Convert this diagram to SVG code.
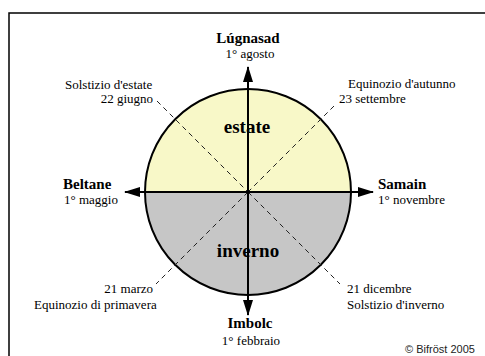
<svg xmlns="http://www.w3.org/2000/svg" width="485" height="356" viewBox="0 0 485 356">
  <defs>
    <style>
      .lbl { font-family: "Liberation Serif", "Times New Roman", serif; font-size: 13px; fill: #000; }
      .ttl { font-family: "Liberation Serif", "Times New Roman", serif; font-size: 15px; font-weight: bold; fill: #000; }
      .season { font-family: "Liberation Serif", "Times New Roman", serif; font-size: 19px; font-weight: bold; fill: #000; }
      .axis { stroke: #000; stroke-width: 2; fill: none; }
      .dash { stroke: #222; stroke-width: 1; stroke-dasharray: 5 4; fill: none; }
      .copy { font-family: "Liberation Sans", Arial, sans-serif; font-size: 11px; fill: #222; }
    </style>
    <marker id="arrow" markerUnits="userSpaceOnUse" markerWidth="16" markerHeight="10" refX="15" refY="5" orient="auto-start-reverse">
      <path d="M0,0 L16,5 L0,10 Z" fill="#000"/>
    </marker>
  </defs>
  <rect x="0" y="0" width="485" height="356" fill="#fff"/>
  <path d="M9,360 V13 H490" fill="none" stroke="#000" stroke-width="1.5"/>

  <g id="wheel">
    <path d="M145,192 A103,103 0 0 1 351,192 Z" fill="#f8f8c8"/>
    <path d="M145,192 A103,103 0 0 0 351,192 Z" fill="#c6c6c6"/>
    <circle cx="248" cy="192" r="103" fill="none" stroke="#000" stroke-width="2"/>
  </g>

  <g id="connectors">
    <line class="dash" x1="157" y1="101" x2="248" y2="192"/>
    <line class="dash" x1="248" y1="192" x2="340" y2="284"/>
    <line class="dash" x1="334" y1="106" x2="248" y2="192"/>
    <line class="dash" x1="248" y1="192" x2="156" y2="284"/>
    <line class="axis" x1="248" y1="67" x2="248" y2="315" marker-start="url(#arrow)" marker-end="url(#arrow)"/>
    <line class="axis" x1="125" y1="192" x2="373" y2="192" marker-start="url(#arrow)" marker-end="url(#arrow)"/>
    <circle cx="248" cy="192" r="1.8" fill="#000"/>
  </g>

  <g id="estate"><text class="season" x="247" y="133" text-anchor="middle">estate</text></g>
  <g id="inverno"><text class="season" x="248" y="257" text-anchor="middle">inverno</text></g>

  <g id="lugnasad">
    <text class="ttl" x="248" y="43" text-anchor="middle">Lúgnasad</text>
    <text class="lbl" x="250" y="58" text-anchor="middle">1° agosto</text>
  </g>
  <g id="beltane">
    <text class="ttl" x="63" y="189">Beltane</text>
    <text class="lbl" x="64" y="204">1° maggio</text>
  </g>
  <g id="samain">
    <text class="ttl" x="378" y="189">Samain</text>
    <text class="lbl" x="378" y="204">1° novembre</text>
  </g>
  <g id="imbolc">
    <text class="ttl" x="250" y="328" text-anchor="middle">Imbolc</text>
    <text class="lbl" x="251" y="345" text-anchor="middle">1° febbraio</text>
  </g>
  <g id="solstizio-estate">
    <text class="lbl" x="65" y="89">Solstizio d'estate</text>
    <text class="lbl" x="153" y="103" text-anchor="end">22 giugno</text>
  </g>
  <g id="equinozio-autunno">
    <text class="lbl" x="348" y="88">Equinozio d'autunno</text>
    <text class="lbl" x="339" y="103">23 settembre</text>
  </g>
  <g id="equinozio-primavera">
    <text class="lbl" x="153" y="293" text-anchor="end">21 marzo</text>
    <text class="lbl" x="34" y="309">Equinozio di primavera</text>
  </g>
  <g id="solstizio-inverno">
    <text class="lbl" x="347" y="293">21 dicembre</text>
    <text class="lbl" x="347" y="309">Solstizio d'inverno</text>
  </g>
  <g id="copyright">
    <text class="copy" x="405" y="353">© Bifröst 2005</text>
  </g>
</svg>
